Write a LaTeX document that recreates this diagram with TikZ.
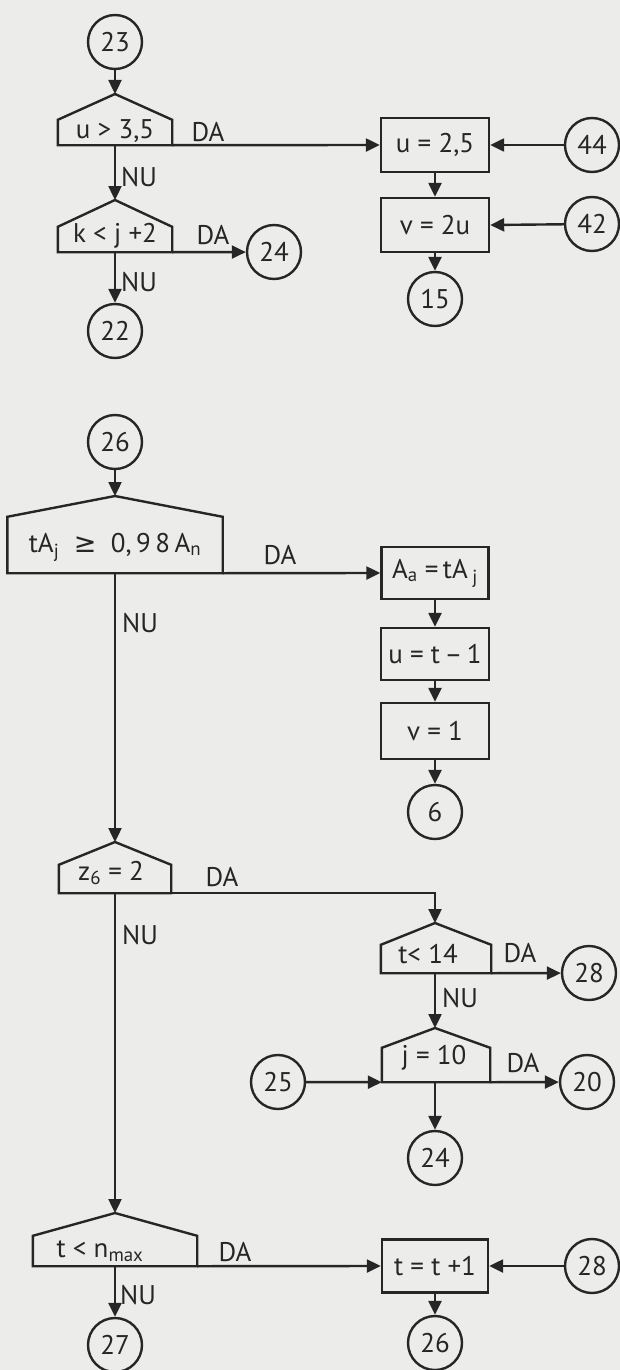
\documentclass[tikz,border=0pt]{standalone}
\usepackage{fontspec}
\setmainfont{PT Sans}
\newfontfamily\symf{DejaVu Sans}
\usetikzlibrary{arrows.meta}
\definecolor{paper}{RGB}{236,236,234}
\definecolor{ink}{RGB}{38,38,38}
\begin{document}
\begin{tikzpicture}[x=1pt,y=-1pt,
  every node/.style={font=\fontsize{27}{31}\selectfont, text=ink},
  conn/.style={circle, draw=ink, line width=2.4pt, minimum size=54pt, inner sep=0pt},
  proc/.style={rectangle, draw=ink, line width=2.4pt, inner sep=0pt},
  decb/.style={rectangle, inner sep=0pt},
  house/.style={draw=ink, line width=2.4pt, line join=miter},
  flow/.style={draw=ink, line width=2.4pt, -{Triangle[length=14pt,width=13pt]}},
  lbl/.style={inner sep=0pt}]
\fill[paper] (0,0) rectangle (620,1370);
\useasboundingbox (0,0) rectangle (620,1370);

% ---------- connectors (circles)
\node[conn] (c23) at (115,42) {23};
\node[conn] (c24a) at (274,252) {24};
\node[conn] (c22) at (115,331) {22};
\node[conn] (c44) at (592,145) {44};
\node[conn] (c42) at (592,224) {42};
\node[conn] (c15) at (435,299) {15};
\node[conn] (c26a) at (115,442) {26};
\node[conn] (c6) at (435,812) {6};
\node[conn] (c28a) at (589,973) {28};
\node[conn] (c20) at (587,1082) {20};
\node[conn] (c25) at (278,1082) {25};
\node[conn] (c24b) at (435,1158) {24};
\node[conn] (c28b) at (592,1266) {28};
\node[conn] (c26b) at (435,1343) {26};
\node[conn] (c27) at (115,1345) {27};

% ---------- process boxes
\node[proc, minimum width=108pt, minimum height=54pt] (b1) at (435,145) {u = 2,5};
\node[proc, minimum width=108pt, minimum height=54pt] (b2) at (435,225) {v = 2u};
\node[proc, minimum width=107pt, minimum height=52pt] (b3) at (435,573) {A\textsubscript{a} =\,tA\,\textsubscript{j}};
\node[proc, minimum width=108pt, minimum height=52pt] (b4) at (435,654) {u = t\,–\,1};
\node[proc, minimum width=108pt, minimum height=56pt] (b5) at (435,731) {v = 1};
\node[proc, minimum width=106pt, minimum height=53pt] (b6) at (435,1266) {t = t +1};

% ---------- decisions (house shapes)
\node[decb, minimum width=114pt, minimum height=25pt] (d1) at (115,132.5) {};
\coordinate (d1ap) at (115,94);
\node[decb, minimum width=114pt, minimum height=25pt] (d2) at (115,239.5) {};
\coordinate (d2ap) at (115,200);
\node[decb, minimum width=215pt, minimum height=56pt] (d3) at (115,545) {};
\coordinate (d3ap) at (115,496);
\node[decb, minimum width=112pt, minimum height=28pt] (d4) at (115,879) {};
\coordinate (d4ap) at (115,842);
\node[decb, minimum width=110pt, minimum height=28pt] (d5) at (436,959) {};
\coordinate (d5ap) at (435,923);
\node[decb, minimum width=108pt, minimum height=34pt] (d6) at (436,1065) {};
\coordinate (d6ap) at (435,1028);
\node[decb, minimum width=164pt, minimum height=30pt] (d7) at (115,1251) {};
\coordinate (d7ap) at (115,1213);

\foreach \d in {d1,d2,d3,d4,d5,d6,d7}
  \draw[house] (\d.south west) -- (\d.north west) -- (\d ap) -- (\d.north east) -- (\d.south east) -- cycle;

% decision texts
\node[lbl] (d1t) at (115,131) {u > 3,5};
\node[lbl] (d2t) at (115,236) {k < j +2};
\node[lbl] (d3t) at (115,547) {tA\textsubscript{j}\ \ {\symf ≥}\ \ 0,\,9\,8\,A\textsubscript{n}};
\node[lbl] (d4t) at (111,873) {z\textsubscript{6} = 2};
\node[lbl] (d5t) at (428,954) {t< 14};
\node[lbl] (d6t) at (434,1058) {j = 10};
\node[lbl] (d7t) at (100,1251) {t < n\textsubscript{max}};

% DA / NU labels
\node[lbl] (da1) at (208,132) {DA};
\node[lbl] (nu1) at (139,177) {NU};
\node[lbl] (da2) at (213,235) {DA};
\node[lbl] (nu2) at (139,282) {NU};
\node[lbl] (da3) at (280,555) {DA};
\node[lbl] (nu3) at (140,623) {NU};
\node[lbl] (da4) at (222,877) {DA};
\node[lbl] (nu4) at (140,935) {NU};
\node[lbl] (da5) at (520,953) {DA};
\node[lbl] (nu5) at (460,998) {NU};
\node[lbl] (da6) at (523,1063) {DA};
\node[lbl] (da7) at (235,1252) {DA};
\node[lbl] (nu7) at (138,1295) {NU};

% ---------- flow lines
\draw[flow] (c23) -- (d1ap);
\draw[flow] (d1.south east) -- (b1.west);
\draw[flow] (d1.south) -- (d2ap);
\draw[flow] (d2.south east) -- (c24a);
\draw[flow] (d2.south) -- (c22);
\draw[flow] (c44) -- (b1.east);
\draw[flow] (b1) -- (b2);
\draw[flow] (c42) -- (b2.east);
\draw[flow] (b2) -- (c15);

\draw[flow] (c26a) -- (d3ap);
\draw[flow] (d3.south east) -- (b3.west);
\draw[flow] (b3) -- (b4);
\draw[flow] (b4) -- (b5);
\draw[flow] (b5) -- (c6);
\draw[flow] (d3.south) -- (d4ap);

\draw[flow] (d4.south east) -| (d5ap);
\draw[flow] (d4.south) -- (d7ap);
\draw[flow] (d5.south east) -- (c28a);
\draw[flow] (d5ap |- d5.south) -- (d6ap);
\draw[flow] (c25) -- (d6.south west);
\draw[flow] (d6.south east) -- (c20);
\draw[flow] (d6ap |- d6.south) -- (c24b);

\draw[flow] (d7.south east) -- (b6.west);
\draw[flow] (d7.south) -- (c27);
\draw[flow] (c28b) -- (b6.east);
\draw[flow] (b6) -- (c26b);
\end{tikzpicture}
\end{document}
